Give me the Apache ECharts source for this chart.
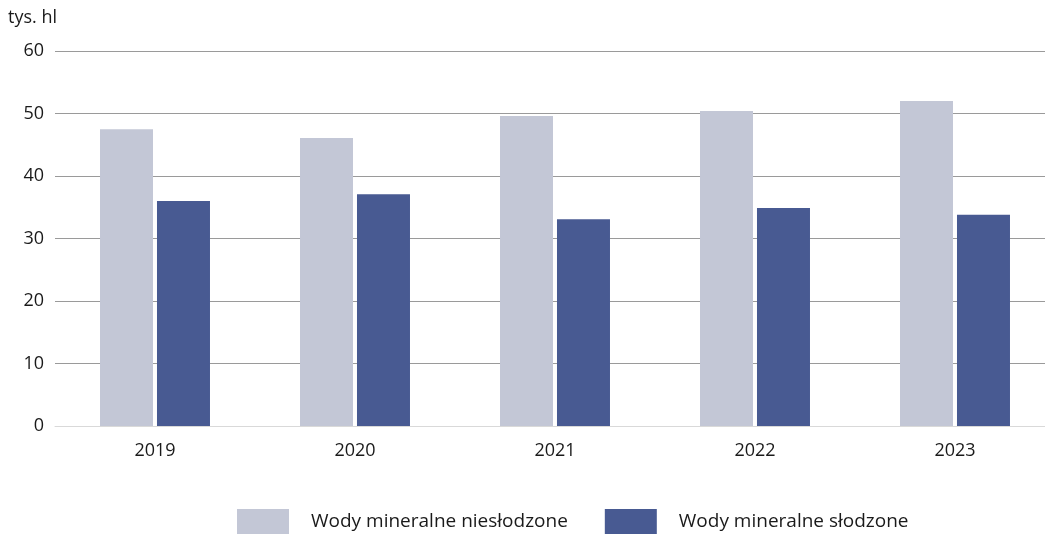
<!DOCTYPE html>
<html>
<head>
<meta charset="utf-8">
<script src="https://cdn.jsdelivr.net/npm/echarts@6/dist/echarts.min.js"></script>
<style>
  html, body { margin: 0; padding: 0; background: #fff; overflow: hidden; }
  #chart { width: 1055px; height: 534px; }
</style>
</head>
<body>
<div id="chart"></div>
<script>
// dane
const years = ['2019', '2020', '2021', '2022', '2023']
const niesłodzone = [47.5, 46.1, 49.6, 50.4, 52.0]
const słodzone = [36.0, 37.1, 33.1, 34.9, 33.8]
const seriesNames = ['Wody mineralne niesłodzone', 'Wody mineralne słodzone']
const colors = ['#c3c7d6', '#485a92']

const font = '"Open Sans", Lato, sans-serif'

const chart = echarts.init(document.getElementById('chart'))
chart.setOption({
  animation: false,
  textStyle: { fontFamily: font },
  title: {
    text: 'tys. hl',
    left: 3,
    top: 4,
    textStyle: { fontSize: 18, fontWeight: 'normal', color: '#1a1a1a', fontFamily: font }
  },
  legend: {
    top: 509,
    left: 237,
    padding: 0,
    itemWidth: 52,
    itemHeight: 25,
    itemGap: 37,
    icon: 'rect',
    textStyle: { fontSize: 19, color: '#1a1a1a', padding: [2, 0, 0, 17] },
    data: seriesNames
  },
  grid: {
    left: 55,
    right: 0,
    top: 51,
    height: 375,
    containLabel: false
  },
  xAxis: {
    type: 'category',
    data: years,
    axisTick: { show: false },
    axisLine: { lineStyle: { color: '#d9d9d9', width: 1 } },
    axisLabel: { fontSize: 18, color: '#1a1a1a', margin: 16 }
  },
  yAxis: {
    type: 'value',
    min: 0,
    max: 60,
    interval: 10,
    axisLine: { show: false },
    axisTick: { show: false },
    axisLabel: { fontSize: 18, color: '#1a1a1a', margin: 11 },
    splitLine: { lineStyle: { color: '#9a9a9a', width: 1.2 } }
  },
  series: [
    {
      name: seriesNames[0],
      type: 'bar',
      data: niesłodzone,
      barWidth: 53,
      barGap: '7.5%',
      itemStyle: { color: colors[0] }
    },
    {
      name: seriesNames[1],
      type: 'bar',
      data: słodzone,
      barWidth: 53,
      barGap: '7.5%',
      itemStyle: { color: colors[1] }
    }
  ]
})
</script>
</body>
</html>
